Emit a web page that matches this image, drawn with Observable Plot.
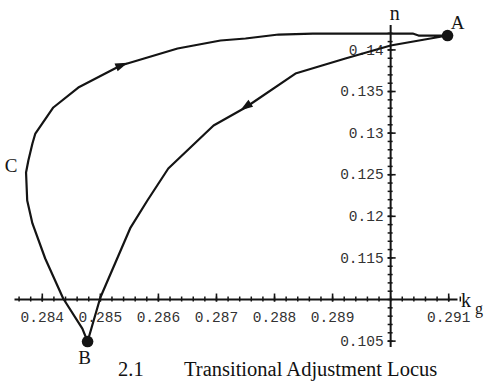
<!DOCTYPE html>
<html>
<head>
<meta charset="utf-8">
<script src="https://cdn.jsdelivr.net/npm/d3@7"></script>
<script src="https://cdn.jsdelivr.net/npm/@observablehq/plot@0.6"></script>
<style>
  body { margin: 0; background: #fff; }
  #wrap { position: relative; width: 490px; height: 385px; overflow: hidden; }
  #cap { position: absolute; top: 359px; left: 0; width: 490px; font: 20.5px "Liberation Serif", "Times New Roman", serif; line-height: 1; color: #111; }
  #cap span { position: absolute; white-space: pre; }
</style>
</head>
<body>
<div id="wrap">
  <div id="chart"></div>
  <div id="cap"><span style="left:118px">2.1</span><span style="left:184px">Transitional Adjustment Locus</span></div>
</div>
<script>
// Transitional adjustment locus in the (k_g, n) plane, traced A -> B -> C -> A
const locusKg = [0.29098, 0.29000, 0.28922, 0.28836, 0.28750, 0.28695, 0.28617, 0.28581, 0.28552, 0.28526,
                 0.28500, 0.28486, 0.28478, 0.28469, 0.28436, 0.28405, 0.28383, 0.28374, 0.28372, 0.28376,
                 0.28383, 0.28388, 0.28419, 0.28462, 0.28535, 0.28633, 0.28707, 0.28750, 0.28807, 0.28866,
                 0.29038, 0.29048, 0.29098];
const locusN  = [0.14173, 0.14053, 0.13897, 0.13716, 0.13308, 0.13091, 0.12575, 0.12190, 0.11865, 0.11445,
                 0.11024, 0.10688, 0.10495, 0.10651, 0.11012, 0.11493, 0.11914, 0.12190, 0.12526, 0.12671,
                 0.12875, 0.12995, 0.13308, 0.13548, 0.13813, 0.14017, 0.14113, 0.14137, 0.14185, 0.14197,
                 0.14197, 0.14173, 0.14173];

// labelled states on the locus (A and B are marked with dots)
const stateNames = ["A", "B", "C"];
const stateKg = [0.29098, 0.28478, 0.28372];
const stateN  = [0.14173, 0.10495, 0.12600];

// direction arrows along the locus
const arrowKg = [0.28535, 0.28752];
const arrowN  = [0.13813, 0.13325];

// axes cross at (0.29, 0.11)
const originKg = 0.29;
const originN = 0.11;
const axisKgExtent = [0.28353, 0.29116];
const axisNExtent = [0.10423, 0.14293];

// tick values and labels
const kgMajor = [0.284, 0.285, 0.286, 0.287, 0.288, 0.289, 0.291];
const kgTickLabels = ["0.284", "0.285", "0.286", "0.287", "0.288", "0.289", "0.291"];
const nMajor = [0.105, 0.115, 0.12, 0.125, 0.13, 0.135, 0.14];
const nTickLabels = ["0.105", "0.115", "0.12", "0.125", "0.13", "0.135", "0.14"];
const kgMinor = d3.range(0, 39).map(i => +(0.2836 + i * 0.0002).toFixed(4));
const nMinor = d3.range(0, 38).map(i => +(0.105 + i * 0.001).toFixed(3));

const locus = locusKg.map((k, i) => ({kg: k, n: locusN[i]}));
const states = stateNames.map((s, i) => ({name: s, kg: stateKg[i], n: stateN[i]}));
const arrows = arrowKg.map((k, i) => ({kg: k, n: arrowN[i]}));
const kgLabelRows = kgMajor.map((v, i) => ({v, t: kgTickLabels[i]}));
const nLabelRows = nMajor.map((v, i) => ({v, t: nTickLabels[i]}));

// slender arrowhead pointing "up" before rotation
const arrowHead = {
  draw(ctx, size) {
    const r = Math.sqrt(size / Math.PI);
    ctx.moveTo(0, -r * 1.45);
    ctx.lineTo(r * 0.8, r * 0.95);
    ctx.lineTo(-r * 0.8, r * 0.95);
    ctx.closePath();
  }
};

const ink = "#141414";
const serif = "'Liberation Serif', 'Times New Roman', serif";
const mono = "'Liberation Mono', 'Courier New', monospace";

// where each state name sits relative to its point
const stateOffset = {A: [10, -13], B: [-3, 16], C: [-15, 0]};
const stateLabel = (s) => Plot.text(states.filter(d => d.name === s), {
  x: "kg", y: "n", text: "name",
  dx: stateOffset[s][0], dy: stateOffset[s][1],
  fontFamily: serif, fontSize: 19, fill: ink
});

const chart = Plot.plot({
  width: 490,
  height: 362,
  margin: 0,
  x: {domain: [0.28328, 0.29172], axis: null},
  y: {domain: [0.10243, 0.14594], axis: null},
  style: {background: "transparent", overflow: "visible"},
  marks: [
    // axes
    Plot.ruleY([originN], {x1: axisKgExtent[0], x2: axisKgExtent[1], stroke: ink, strokeWidth: 2}),
    Plot.ruleX([originKg], {y1: axisNExtent[0], y2: axisNExtent[1], stroke: ink, strokeWidth: 2}),
    // minor ticks
    Plot.ruleX(kgMinor, {x: d => d, y1: () => originN, y2: () => originN, insetTop: -2.5, insetBottom: -2.5, stroke: ink, strokeWidth: 1.5}),
    Plot.ruleY(nMinor, {y: d => d, x1: () => originKg, x2: () => originKg, insetLeft: -2.5, insetRight: -2.5, stroke: ink, strokeWidth: 1.5}),
    // major ticks
    Plot.ruleX(kgMajor, {x: d => d, y1: () => originN, y2: () => originN, insetTop: -5.5, insetBottom: -2.5, stroke: ink, strokeWidth: 1.6}),
    Plot.ruleY(nMajor, {y: d => d, x1: () => originKg, x2: () => originKg, insetLeft: -2.5, insetRight: -5.5, stroke: ink, strokeWidth: 1.6}),
    // tick labels
    Plot.text(kgLabelRows, {x: "v", y: () => originN, text: "t", dy: 18, fontFamily: mono, fontSize: 14.5, fill: "#333"}),
    Plot.text(nLabelRows, {x: () => originKg, y: "v", text: "t", dx: -7, textAnchor: "end", fontFamily: mono, fontSize: 14.5, fill: "#333"}),
    // axis names
    Plot.text(["n"], {x: () => originKg, y: () => axisNExtent[1], dx: 4, dy: -12, fontFamily: serif, fontSize: 20, fill: ink}),
    Plot.text(["k"], {x: () => axisKgExtent[1], y: () => originN, dx: 3, dy: 1, textAnchor: "start", fontFamily: serif, fontSize: 20, fill: ink}),
    Plot.text(["g"], {x: () => axisKgExtent[1], y: () => originN, dx: 17, dy: 9, textAnchor: "start", fontFamily: serif, fontSize: 16, fill: ink}),
    // the locus
    Plot.line(locus, {x: "kg", y: "n", stroke: ink, strokeWidth: 2.2, curve: "linear", strokeLinejoin: "round"}),
    Plot.dot([arrows[0]], {x: "kg", y: "n", symbol: arrowHead, r: 5.2, rotate: 68, fill: ink, stroke: "none"}),
    Plot.dot([arrows[1]], {x: "kg", y: "n", symbol: arrowHead, r: 5.2, rotate: 236, fill: ink, stroke: "none"}),
    Plot.dot(states.filter(d => d.name !== "C"), {x: "kg", y: "n", r: 5.8, fill: ink, stroke: "none"}),
    // state labels
    stateLabel("A"),
    stateLabel("B"),
    stateLabel("C")
  ]
});
document.getElementById("chart").appendChild(chart);
</script>
</body>
</html>
